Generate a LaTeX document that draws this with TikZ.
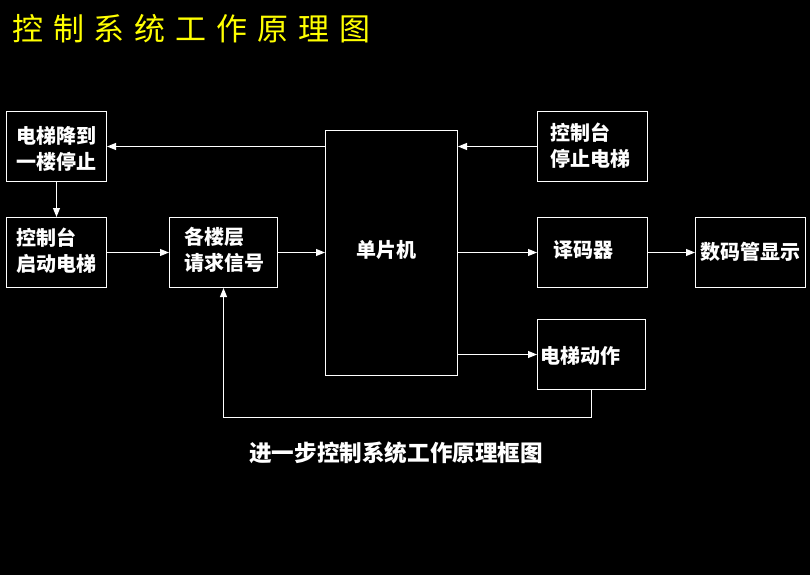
\documentclass[tikz,border=0pt]{standalone}
\usepackage{fontspec}
\newfontfamily\cjk{Noto Sans CJK SC}
\usetikzlibrary{arrows.meta}
\begin{document}
\begin{tikzpicture}[x=1pt,y=-1pt,
  box/.style={draw=white, line width=1pt, inner sep=0pt, anchor=north west},
  lbl/.style={text=white, font=\cjk\bfseries\fontsize{20}{26}\selectfont, inner sep=0pt, anchor=west, align=left},
  conn/.style={draw=white, line width=1pt, -{Triangle[length=9pt,width=7pt]}}]
\fill[black] (0,0) rectangle (810,575);
\useasboundingbox (0,0) rectangle (810,575);
% title
\node[text={rgb,255:red,255;green,255;blue,0}, font=\cjk\fontsize{31}{33}\selectfont, inner sep=0pt, anchor=west] (title) at (12,29)
  {控\hspace{9.9pt}制\hspace{9.9pt}系\hspace{9.9pt}统\hspace{9.9pt}工\hspace{9.9pt}作\hspace{9.9pt}原\hspace{9.9pt}理\hspace{9.9pt}图};
% boxes
\node[box, minimum width=100pt, minimum height=70pt] (A) at (6,111) {};
\node[box, minimum width=100pt, minimum height=70pt] (B) at (6,217) {};
\node[box, minimum width=108pt, minimum height=70pt] (C) at (169,217) {};
\node[box, minimum width=132pt, minimum height=245pt] (M) at (325,130) {};
\node[box, minimum width=110pt, minimum height=70pt] (D) at (537,111) {};
\node[box, minimum width=110pt, minimum height=70pt] (E) at (537,217) {};
\node[box, minimum width=110pt, minimum height=70pt] (F) at (695,217) {};
\node[box, minimum width=108pt, minimum height=70pt] (G) at (537,319) {};
% labels
\node[lbl] (tA) at (16,149) {电梯降到\\一楼停止};
\node[lbl] (tB) at (16,250.5) {控制台\\启动电梯};
\node[lbl] (tC) at (184,249.5) {各楼层\\请求信号};
\node[lbl] (tM) at (356,250) {单片机};
\node[lbl] (tD) at (550,146) {控制台\\停止电梯};
\node[lbl] (tE) at (553,250) {译码器};
\node[lbl] (tF) at (700,252) {数码管显示};
\node[lbl] (tG) at (540,356) {电梯动作};
% caption
\node[text=white, font=\cjk\bfseries\fontsize{22.6}{24}\selectfont, inner sep=0pt, anchor=west] (cap) at (249,453) {进一步控制系统工作原理框图};
% connectors
\coordinate (fb) at (223,417);
\draw[conn] (D.west) -- (M.east |- D.west);
\draw[conn] (M.west |- A.east) -- (A.east);
\draw[conn] (A.south) -- (B.north);
\draw[conn] (B.east) -- (C.west);
\draw[conn] (C.east) -- (M.west |- C.east);
\draw[conn] (M.east |- E.west) -- (E.west);
\draw[conn] (E.east) -- (F.west);
\draw[conn] (M.east |- G.west) -- (G.west);
\draw[conn] (G.south) -- (G.south |- fb) -| (C.south);
\end{tikzpicture}
\end{document}
